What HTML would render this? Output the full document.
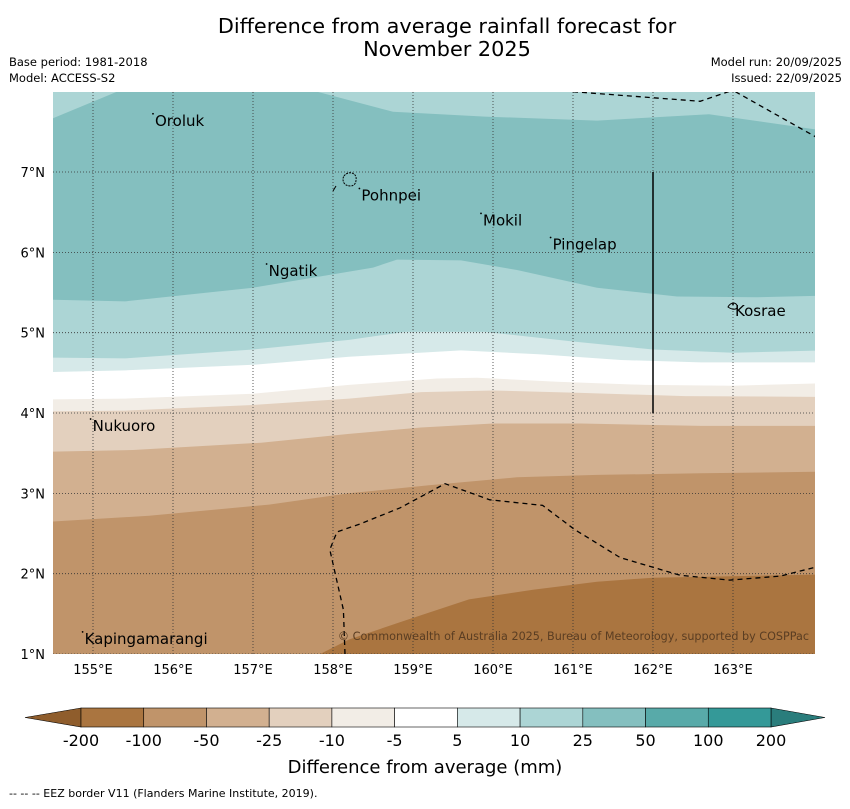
<!DOCTYPE html>
<html><head><meta charset="utf-8"><style>
body{margin:0;background:#fff;}
svg text{font-family:"DejaVu Sans","Liberation Sans",sans-serif;}
</style></head><body>
<svg id="chart" width="850" height="804" xmlns="http://www.w3.org/2000/svg">
<text x="447" y="33" font-size="20.8" text-anchor="middle">Difference from average rainfall forecast for</text>
<text x="447" y="56" font-size="20.8" text-anchor="middle">November 2025</text>
<text x="9" y="66" font-size="11.5">Base period: 1981-2018</text>
<text x="9" y="82" font-size="11.5">Model: ACCESS-S2</text>
<text x="842" y="66" font-size="11.5" text-anchor="end">Model run: 20/09/2025</text>
<text x="842" y="82" font-size="11.5" text-anchor="end">Issued: 22/09/2025</text>
<defs><clipPath id="pc"><rect x="53" y="92" width="762" height="562"/></clipPath></defs>
<g id="plot" clip-path="url(#pc)"></g>
<g id="over"></g>
<g id="cbar"></g>
<text x="425" y="773" font-size="18" text-anchor="middle">Difference from average (mm)</text>
<text x="9" y="797" font-size="11">--   --   -- EEZ border V11 (Flanders Marine Institute, 2019).</text>
</svg>
<script>
const lonTicks=[155,156,157,158,159,160,161,162,163];
const latTicks=[1,2,3,4,5,6,7];
const levels=[-200,-100,-50,-25,-10,-5,5,10,25,50,100,200];
const levelColors=["#aa7540","#c0946a","#d2b090","#e3d0be","#f2ede6","#ffffff","#d6e9e9","#acd5d5","#84bfbf","#58aaa9","#349998"];
const topPatchLeft=[[154.5,8],[154.5,7.67],[155.3,8]];
const topPatchRight=[[157.8,8],[158.75,7.75],[159.9,7.69],[161.3,7.64],[162.7,7.72],[164.1,7.52]];
const bnd25_10=[[154.5,5.41],[155.4,5.39],[157,5.56],[158.5,5.81],[158.8,5.91],[159.6,5.9],[160.3,5.78],[161.3,5.56],[162.3,5.45],[163.3,5.44],[164.1,5.46]];
const bnd10_5=[[154.5,4.69],[155.4,4.68],[157,4.79],[158.2,4.91],[158.9,5.01],[159.9,5.01],[161,4.89],[162,4.79],[163,4.75],[164.1,4.78]];
const bnd5_m5=[[154.5,4.51],[155.4,4.53],[157,4.6],[158.2,4.7],[159.6,4.78],[160.6,4.73],[161.6,4.66],[162.6,4.63],[164.1,4.63]];
const bndm5_m10=[[154.5,4.17],[155.4,4.18],[157,4.24],[158.2,4.35],[159.3,4.43],[159.8,4.44],[160.8,4.39],[161.9,4.35],[163,4.34],[164.1,4.37]];
const bndm10_m25=[[154.5,4.02],[155.4,4.03],[157,4.1],[158.2,4.18],[159.1,4.26],[160,4.28],[161.1,4.25],[162.4,4.21],[164.1,4.2]];
const bndm25_m50=[[154.5,3.52],[155.5,3.54],[157.1,3.63],[158.2,3.74],[159.1,3.82],[160,3.87],[161.1,3.87],[162.6,3.84],[164.1,3.84]];
const bndm50_m100=[[154.5,2.65],[155.7,2.72],[157.2,2.86],[158.2,3.0],[159.2,3.1],[160.3,3.2],[161.3,3.23],[162.6,3.25],[164.1,3.27]];
const bndm100_m200=[[157.84,1.0],[158.2,1.18],[158.85,1.4],[159.7,1.68],[160.5,1.8],[161.3,1.9],[162,1.95],[164.1,1.99]];
const eezTop1=[[161.0,8],[162.59,7.88],[163.03,8.03]];
const eezTop2=[[163.03,8],[164.03,7.44]];
const eezLow=[[158.15,1.0],[158.13,1.55],[157.96,2.3],[158.05,2.52],[158.34,2.62],[158.84,2.82],[159.4,3.12],[159.96,2.92],[160.62,2.85],[161.02,2.55],[161.59,2.2],[162.34,1.98],[162.96,1.92],[163.59,1.97],[164.03,2.08]];
const islands=[["Oroluk",155.75,7.65],["Pohnpei",158.33,6.72],["Mokil",159.85,6.41],["Pingelap",160.72,6.11],["Ngatik",157.17,5.78],["Kosrae",163.0,5.28],["Nukuoro",154.97,3.85],["Kapingamarangi",154.87,1.2]];
const X=lon=>93+(lon-155)*80, Y=lat=>654-(lat-1)*80.33;
const NS="http://www.w3.org/2000/svg";
function mk(tag,attrs,parent){const e=document.createElementNS(NS,tag);for(const k in attrs)e.setAttribute(k,attrs[k]);parent.appendChild(e);return e;}
const plot=document.getElementById('plot'),over=document.getElementById('over'),cb=document.getElementById('cbar');
const pts=a=>a.map(p=>X(p[0]).toFixed(1)+","+Y(p[1]).toFixed(1)).join(" ");
let r=mk('rect',{x:53,y:92,width:762,height:562,fill:levelColors[8]},plot);


let p=mk('polygon',{points:pts(topPatchLeft),fill:levelColors[7]},plot);


p=mk('polygon',{points:pts(topPatchRight)+" "+X(164.2)+","+Y(8.2),fill:levelColors[7]},plot);


const bands=[[bnd25_10,7,'band-10-25'],[bnd10_5,6,'band-5-10'],[bnd5_m5,5,'band-neutral'],[bndm5_m10,4,'band-m10-m5'],[bndm10_m25,3,'band-m25-m10'],[bndm25_m50,2,'band-m50-m25'],[bndm50_m100,1,'band-m100-m50']];
bands.forEach(b=>{
  const poly=pts(b[0])+" 820,660 50,660";
  const e=mk('polygon',{points:poly,fill:levelColors[b[1]]},plot);
  
  
});
p=mk('polygon',{points:pts(bndm100_m200)+" 820,660 "+X(157.84)+",660",fill:levelColors[0]},plot);


lonTicks.forEach(l=>{
  const g=mk('line',{x1:X(l),x2:X(l),y1:92,y2:654,stroke:"#333",'stroke-width':0.8,'stroke-dasharray':"1,2"},plot);
  
  
  const t=mk('text',{x:X(l),y:674,'font-size':13,'text-anchor':'middle'},over);t.textContent=l+"°E";
  
  
});
latTicks.forEach(l=>{
  const g=mk('line',{x1:53,x2:815,y1:Y(l),y2:Y(l),stroke:"#333",'stroke-width':0.8,'stroke-dasharray':"1,2"},plot);
  
  
  const t=mk('text',{x:45,y:Y(l)+5,'font-size':13,'text-anchor':'end'},over);t.textContent=l+"°N";
  
  
});
[eezTop1,eezTop2,eezLow].forEach(a=>{
  const e=mk('polyline',{points:pts(a),fill:'none',stroke:'#000','stroke-width':1.3,'stroke-dasharray':'5,4'},plot);
  
  
});
let v=mk('line',{x1:X(162),x2:X(162),y1:Y(7),y2:Y(4),stroke:'#000','stroke-width':1.5},plot);


let bl=mk('path',{d:"M344,176 q3,-4 8,-3 q5,2 4,7 q0,5 -5,6 q-5,0 -7,-3 q-2,-4 0,-7z",fill:'none',stroke:'#000','stroke-width':1,'stroke-dasharray':'2,1'},plot);


bl=mk('line',{x1:333,y1:191,x2:336,y2:186,stroke:'#000','stroke-width':1},plot);


bl=mk('path',{d:"M728,307 q2,-4 6,-4 q4,1 3,5 q-3,3 -9,-1z",fill:'none',stroke:'#000','stroke-width':1},plot);


islands.forEach(s=>{
  const t=mk('text',{x:X(s[1])+2,y:Y(s[2])+6,'font-size':15},plot);t.textContent=s[0];
  
  
  const d=mk('circle',{cx:X(s[1]),cy:Y(s[2])-6,r:0.9,fill:'#000'},plot);
  
  
});
let c=mk('text',{x:809,y:640,'font-size':11.2,'text-anchor':'end',fill:'#5a3d22'},plot);c.textContent="© Commonwealth of Australia 2025, Bureau of Meteorology, supported by COSPPac";


const cx0=81,cx1=771,cy=708,ch=19,n=levelColors.length,w=(cx1-cx0)/n;
let tri=mk('polygon',{points:`${cx0},${cy} 25,${cy+ch/2} ${cx0},${cy+ch}`,fill:'#8f5d2c',stroke:'#000','stroke-width':0.6},cb);


tri=mk('polygon',{points:`${cx1},${cy} 825,${cy+ch/2} ${cx1},${cy+ch}`,fill:'#2a7d7c',stroke:'#000','stroke-width':0.6},cb);


levelColors.forEach((col,i)=>{
  const e=mk('rect',{x:cx0+i*w,y:cy,width:w,height:ch,fill:col,stroke:'#000','stroke-width':0.6},cb);
  
  
});
levels.forEach((l,i)=>{
  const t=mk('text',{x:cx0+i*w,y:746,'font-size':16,'text-anchor':'middle'},cb);t.textContent=l;
  
  
});
</script>
</body></html>
